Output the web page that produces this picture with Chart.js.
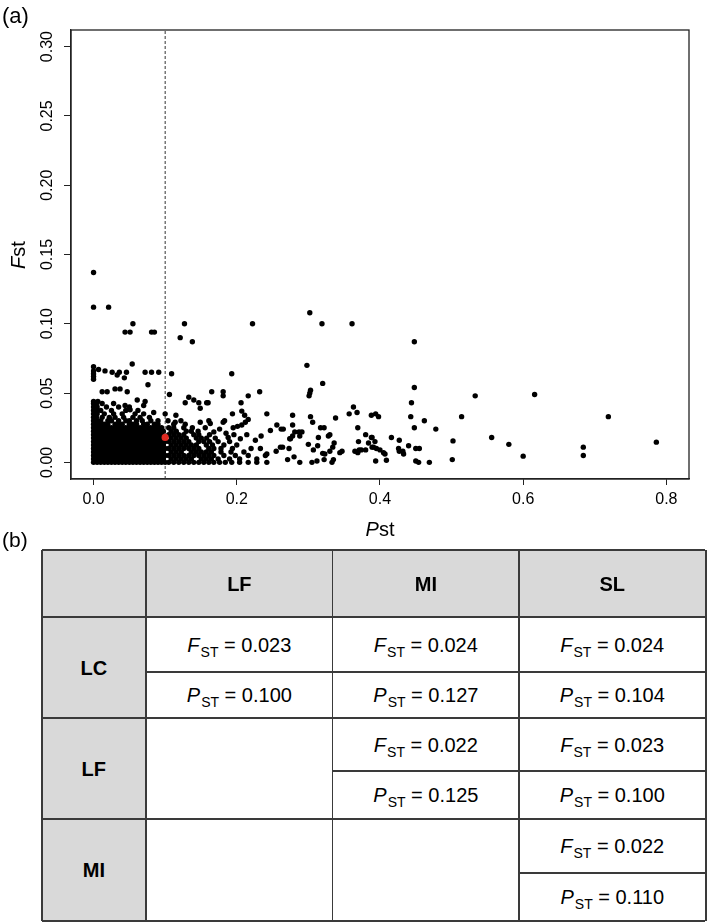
<!DOCTYPE html>
<html>
<head>
<meta charset="utf-8">
<script src="https://cdn.jsdelivr.net/npm/chart.js@4.4.1/dist/chart.umd.min.js"></script>
<style>
  html,body{margin:0;padding:0;background:#fff;}
  body{width:709px;height:922px;position:relative;overflow:hidden;font-family:"Liberation Sans",Arial,sans-serif;color:#000;}
  .lbl{position:absolute;line-height:1;white-space:nowrap;}
  .sub{font-size:14px;position:relative;top:5px;margin-left:1px;}
  #wrap{position:absolute;left:0;top:0;width:709px;height:545px;}
</style>
</head>
<body>
<div id="wrap"><canvas id="c" width="709" height="545"></canvas></div>
<div class="lbl" style="left:2px;top:5px;font-size:22px;">(a)</div>
<div class="lbl" style="left:2px;top:529px;font-size:21px;">(b)</div>
<div class="lbl" style="left:-2px;top:245px;width:40px;text-align:center;font-size:20px;transform:rotate(-90deg);"><i>F</i>st</div>
<div class="lbl" style="left:71px;width:618px;top:519px;text-align:center;font-size:20px;"><i>P</i>st</div>
<script>
// ---------------- DATA ----------------
const xTickValues = [0, 0.2, 0.4, 0.6, 0.8];
const yTickValues = [0, 0.05, 0.10, 0.15, 0.20, 0.25, 0.30];
const pstThreshold = 0.1;
const meanPoint = [[0.100, 0.018]]; // red point [Pst, Fst]
// scattered loci [Pst, Fst]
const lociSparse = [
[0,0.137],[0,0.112],[0.021,0.112],
[0.055,0.100],[0.044,0.094],[0.051,0.094],[0.081,0.094],[0.085,0.094],
[0.127,0.100],[0.121,0.090],[0.138,0.087],[0.054,0.071],
[0,0.069],[0,0.066],[0,0.064],[0,0.062],[0,0.060],
[0.007,0.067],[0.016,0.066],[0.026,0.065],[0.036,0.065],[0.046,0.065],[0.033,0.063],[0.043,0.061],
[0.072,0.065],[0.081,0.065],[0.091,0.065],[0.109,0.064],[0.076,0.056],
[0.012,0.051],[0.019,0.051],[0.030,0.053],[0.037,0.053],[0.047,0.051],
[0.061,0.045],[0.072,0.044],[0.070,0.041],[0.051,0.038],[0.044,0.041],
[0.106,0.049],[0.128,0.043],[0.133,0.047],[0.140,0.045],[0.147,0.043],[0.158,0.043],
[0.100,0.035],[0.115,0.034],[0.114,0.029],[0.084,0.036],
[0.222,0.100],[0.302,0.108],[0.319,0.100],[0.361,0.100],[0.298,0.070],[0.193,0.064],[0.320,0.057],
[0.303,0.052],[0.302,0.050],[0.301,0.048],[0.165,0.051],[0.181,0.051],[0.181,0.048],[0.232,0.051],[0.216,0.048],
[0.149,0.039],[0.160,0.043],[0.206,0.043],[0.194,0.035],[0.207,0.037],[0.211,0.034],[0.216,0.031],
[0.242,0.035],[0.278,0.034],[0.303,0.033],[0.338,0.032],[0.357,0.035],[0.363,0.040],[0.368,0.036],
[0.388,0.034],[0.394,0.035],[0.398,0.033],
[0.149,0.029],[0.161,0.030],[0.163,0.028],[0.183,0.030],[0.181,0.029],
[0.195,0.025],[0.201,0.026],[0.207,0.027],[0.212,0.029],
[0.247,0.023],[0.256,0.027],[0.262,0.024],[0.265,0.024],[0.278,0.027],
[0.281,0.022],[0.287,0.022],[0.291,0.022],[0.288,0.019],
[0.306,0.029],[0.317,0.025],[0.322,0.025],[0.328,0.019],[0.330,0.020],
[0.369,0.025],[0.380,0.020],[0.389,0.018],[0.274,0.017],[0.278,0.019],
[0.300,0.013],[0.314,0.018],[0.313,0.012],[0.336,0.014],[0.334,0.011],[0.307,0.009],
[0.320,0.0065],[0.323,0.006],[0.344,0.007],[0.347,0.008],
[0.370,0.015],[0.371,0.009],[0.369,0.007],[0.380,0.009],[0.395,0.010],[0.384,0.014],[0.389,0.011],
[0.394,0.001],[0.271,0.002],[0.280,0.004],[0.288,0.000],
[0.305,0.000],[0.312,0.001],[0.322,0.002],[0.333,0.000],[0.335,0.002],
[0.255,0.008],[0.261,0.011],[0.264,0.011],[0.273,0.010],[0.275,0.017],
[0.242,0.006],[0.242,0.000],[0.233,0.010],
[0.448,0.087],[0.448,0.054],[0.444,0.043],[0.533,0.048],[0.616,0.049],
[0.443,0.033],[0.462,0.030],[0.448,0.025],[0.478,0.024],[0.514,0.033],
[0.388,0.018],[0.393,0.015],[0.391,0.011],[0.416,0.018],[0.427,0.016],[0.440,0.012],
[0.400,0.009],[0.405,0.007],[0.407,0.006],[0.426,0.010],[0.427,0.008],[0.432,0.008],[0.433,0.006],
[0.450,0.010],[0.455,0.010],[0.409,0.0015],[0.450,0.001],[0.454,0.000],[0.469,0.000],
[0.502,0.0155],[0.501,0.002],[0.556,0.018],[0.580,0.013],[0.600,0.0045],
[0.719,0.033],[0.684,0.011],[0.684,0.005],[0.786,0.0146],
[0.365,0.008],[0.374,0.009],[0.330,0.008],
[0.168,0.022],[0.176,0.024],[0.185,0.021],[0.188,0.018],[0.196,0.020],[0.205,0.017],[0.214,0.020],[0.226,0.016],[0.234,0.019]
];
// dense cloud of loci near the origin [Pst, Fst]
const lociCloud = [
[0,0],[0.005,0],[0.01,0],[0.015,0],[0.02,0],[0.025,0],[0.03,0],[0.035,0],[0.04,0],[0.045,0],[0.05,0],[0.055,0],[0.06,0],[0.065,0],[0.07,0],[0.075,0],[0.08,0],[0.085,0],[0.09,0],[0.095,0],[0.1,0],
[0.105,0],[0.112,0],[0.119,0],[0.126,0],[0.133,0],[0.14,0],[0.147,0],[0.154,0],[0.161,0],[0.168,0],[0.176,0],[0.184,0],[0.193,0],[0.204,0],[0.216,0],[0.228,0],
[0,0.0025],[0.0025,0.0025],[0.0075,0.0025],[0.0125,0.0025],[0.0175,0.0025],[0.0225,0.0025],[0.0275,0.0025],[0.0325,0.0025],[0.0375,0.0025],[0.0425,0.0025],[0.0475,0.0025],[0.0525,0.0025],[0.0575,0.0025],[0.0625,0.0025],[0.0675,0.0025],[0.0725,0.0025],[0.0775,0.0025],[0.0825,0.0025],[0.0875,0.0025],[0.0925,0.0025],[0.0975,0.0025],
[0.1085,0.0025],[0.1155,0.0025],[0.1225,0.0025],[0.1295,0.0025],[0.1365,0.0025],[0.1505,0.0025],[0.1575,0.0025],[0.1645,0.0025],[0.174,0.0025],[0.19,0.0025],[0.204,0.0025],[0.228,0.0025],
[0,0.005],[0.005,0.005],[0.01,0.005],[0.015,0.005],[0.02,0.005],[0.025,0.005],[0.03,0.005],[0.035,0.005],[0.04,0.005],[0.045,0.005],[0.05,0.005],[0.055,0.005],[0.06,0.005],[0.065,0.005],[0.07,0.005],[0.075,0.005],[0.08,0.005],[0.085,0.005],[0.09,0.005],[0.095,0.005],[0.1,0.005],
[0.105,0.005],[0.112,0.005],[0.119,0.005],[0.126,0.005],[0.133,0.005],[0.14,0.005],[0.147,0.005],[0.154,0.005],[0.161,0.005],[0.168,0.005],[0.182,0.005],[0.198,0.005],[0.216,0.005],[0.24,0.005],
[0,0.0075],[0.0025,0.0075],[0.0075,0.0075],[0.0125,0.0075],[0.0175,0.0075],[0.0225,0.0075],[0.0275,0.0075],[0.0325,0.0075],[0.0375,0.0075],[0.0425,0.0075],[0.0475,0.0075],[0.0525,0.0075],[0.0575,0.0075],[0.0625,0.0075],[0.0675,0.0075],[0.0725,0.0075],[0.0775,0.0075],[0.0825,0.0075],[0.0875,0.0075],[0.0925,0.0075],[0.0975,0.0075],
[0.1085,0.0075],[0.1155,0.0075],[0.1225,0.0075],[0.1365,0.0075],[0.1435,0.0075],[0.1505,0.0075],[0.1575,0.0075],[0.1645,0.0075],[0.178,0.0075],[0.192,0.0075],[0.21,0.0075],
[0,0.01],[0.005,0.01],[0.01,0.01],[0.015,0.01],[0.02,0.01],[0.025,0.01],[0.03,0.01],[0.035,0.01],[0.04,0.01],[0.045,0.01],[0.05,0.01],[0.055,0.01],[0.06,0.01],[0.065,0.01],[0.07,0.01],[0.075,0.01],[0.08,0.01],[0.085,0.01],[0.09,0.01],[0.095,0.01],[0.1,0.01],
[0.105,0.01],[0.112,0.01],[0.119,0.01],[0.126,0.01],[0.133,0.01],[0.14,0.01],[0.147,0.01],[0.161,0.01],[0.168,0.01],[0.178,0.01],[0.194,0.01],[0.22,0.01],
[0,0.0125],[0.0025,0.0125],[0.0075,0.0125],[0.0125,0.0125],[0.0175,0.0125],[0.0225,0.0125],[0.0275,0.0125],[0.0325,0.0125],[0.0375,0.0125],[0.0425,0.0125],[0.0475,0.0125],[0.0525,0.0125],[0.0575,0.0125],[0.0625,0.0125],[0.0675,0.0125],[0.0725,0.0125],[0.0775,0.0125],[0.0825,0.0125],[0.0875,0.0125],[0.0925,0.0125],[0.0975,0.0125],
[0.1085,0.0125],[0.1155,0.0125],[0.1225,0.0125],[0.1295,0.0125],[0.1365,0.0125],[0.1435,0.0125],[0.1575,0.0125],[0.166,0.0125],[0.182,0.0125],[0.2,0.0125],
[0,0.015],[0.005,0.015],[0.01,0.015],[0.015,0.015],[0.02,0.015],[0.025,0.015],[0.03,0.015],[0.035,0.015],[0.04,0.015],[0.045,0.015],[0.05,0.015],[0.055,0.015],[0.06,0.015],[0.065,0.015],[0.07,0.015],[0.075,0.015],[0.08,0.015],[0.085,0.015],[0.09,0.015],[0.095,0.015],[0.1,0.015],
[0.105,0.015],[0.112,0.015],[0.119,0.015],[0.126,0.015],[0.133,0.015],[0.147,0.015],[0.154,0.015],[0.162,0.015],[0.174,0.015],[0.19,0.015],
[0,0.0175],[0.0025,0.0175],[0.0075,0.0175],[0.0125,0.0175],[0.0175,0.0175],[0.0225,0.0175],[0.0275,0.0175],[0.0325,0.0175],[0.0375,0.0175],[0.0425,0.0175],[0.0475,0.0175],[0.0525,0.0175],[0.0575,0.0175],[0.0625,0.0175],[0.0675,0.0175],[0.0725,0.0175],[0.0775,0.0175],[0.0825,0.0175],[0.0875,0.0175],[0.0925,0.0175],
[0.1085,0.0175],[0.1155,0.0175],[0.1225,0.0175],[0.1295,0.0175],[0.1435,0.0175],[0.1505,0.0175],[0.158,0.0175],[0.17,0.0175],
[0,0.02],[0.005,0.02],[0.01,0.02],[0.015,0.02],[0.02,0.02],[0.025,0.02],[0.03,0.02],[0.035,0.02],[0.04,0.02],[0.045,0.02],[0.05,0.02],[0.055,0.02],[0.06,0.02],[0.065,0.02],[0.07,0.02],[0.075,0.02],[0.08,0.02],[0.085,0.02],[0.09,0.02],[0.095,0.02],
[0.105,0.02],[0.112,0.02],[0.119,0.02],[0.126,0.02],[0.14,0.02],[0.147,0.02],[0.162,0.02],
[0,0.0225],[0.0025,0.0225],[0.0075,0.0225],[0.0125,0.0225],[0.0175,0.0225],[0.0225,0.0225],[0.0275,0.0225],[0.0325,0.0225],[0.0375,0.0225],[0.0425,0.0225],[0.0475,0.0225],[0.0525,0.0225],[0.0575,0.0225],[0.0625,0.0225],[0.0675,0.0225],[0.0725,0.0225],[0.0775,0.0225],[0.0825,0.0225],[0.0875,0.0225],[0.0925,0.0225],[0.0975,0.0225],
[0.1085,0.0225],[0.1155,0.0225],[0.1295,0.0225],[0.1365,0.0225],[0.146,0.0225],
[0,0.025],[0.005,0.025],[0.01,0.025],[0.015,0.025],[0.02,0.025],[0.025,0.025],[0.03,0.025],[0.035,0.025],[0.04,0.025],[0.045,0.025],[0.05,0.025],[0.055,0.025],[0.06,0.025],[0.065,0.025],[0.07,0.025],[0.075,0.025],[0.08,0.025],[0.085,0.025],[0.09,0.025],[0.095,0.025],
[0.105,0.025],[0.112,0.025],[0.126,0.025],[0.138,0.025],[0.156,0.025],
[0,0.0275],[0.005,0.0275],[0.01,0.0275],[0.015,0.0275],[0.02,0.0275],[0.03,0.0275],[0.035,0.0275],[0.04,0.0275],[0.05,0.0275],[0.055,0.0275],[0.06,0.0275],[0.07,0.0275],[0.075,0.0275],[0.085,0.0275],[0.09,0.0275],
[0.112,0.0275],[0.128,0.0275],
[0,0.03],[0.005,0.03],[0.01,0.03],[0.02,0.03],[0.025,0.03],[0.035,0.03],[0.045,0.03],[0.05,0.03],[0.06,0.03],[0.068,0.03],[0.08,0.03],[0.09,0.03],[0.104,0.03],[0.122,0.03],
[0,0.0325],[0.004,0.0325],[0.012,0.0325],[0.022,0.0325],[0.03,0.0325],[0.042,0.0325],[0.055,0.0325],[0.065,0.0325],[0.078,0.0325],
[0,0.035],[0.005,0.035],[0.015,0.035],[0.028,0.035],[0.04,0.035],[0.058,0.035],[0.07,0.035],
[0,0.0375],[0.004,0.0375],[0.01,0.0375],[0.025,0.0375],[0.045,0.0375],[0.062,0.0375],
[0,0.04],[0.005,0.04],[0.018,0.04],[0.035,0.04],[0.05,0.04],
[0,0.0425],[0.004,0.0425],[0.012,0.0425],[0.028,0.0425],
[0,0.044],[0.006,0.044]
];
// table (b)
const colHeads = ['LF', 'MI', 'SL'];
const rowHeads = ['LC', 'LF', 'MI'];
const fstTable = [[0.023, 0.024, 0.024], [null, 0.022, 0.023], [null, null, 0.022]];
const pstTable = [[0.100, 0.127, 0.104], [null, 0.125, 0.100], [null, null, 0.110]];

// ---------------- CHART ----------------
const FONT = '"Liberation Sans", Arial, Helvetica, sans-serif';
Chart.defaults.font.family = FONT;
Chart.defaults.color = '#000';

const frame = {
  id: 'frame',
  afterDatasetsDraw(chart) {
    const a = chart.chartArea, c = chart.ctx;
    c.save();
    c.strokeStyle = '#222';
    c.lineWidth = 1.3;
    c.strokeRect(a.left, a.top, a.right - a.left, a.bottom - a.top);
    c.restore();
  }
};
const toXY = p => ({x: p[0], y: p[1]});

new Chart(document.getElementById('c'), {
  type: 'scatter',
  data: {
    datasets: [
      { label: 'mean', data: meanPoint.map(toXY), backgroundColor: '#e02a22', borderWidth: 0, pointRadius: 3.6, order: 0 },
      { label: 'loci', data: lociCloud.concat(lociSparse).map(toXY), backgroundColor: '#000', borderWidth: 0, pointRadius: 2.7, order: 1 },
      { label: 'threshold', type: 'line', data: [{x: pstThreshold, y: -0.012}, {x: pstThreshold, y: 0.312}], borderColor: '#333', borderWidth: 1, borderDash: [3, 2], pointRadius: 0, showLine: true, order: 2 }
    ]
  },
  options: {
    responsive: false,
    devicePixelRatio: 1,
    animation: false,
    events: [],
    layout: { padding: { left: 0, right: 20, top: 30, bottom: 0 } },
    plugins: { legend: { display: false }, tooltip: { enabled: false } },
    scales: {
      x: {
        type: 'linear', min: -0.0315, max: 0.8316,
        afterBuildTicks: s => { s.ticks = xTickValues.map(v => ({value: v})); },
        afterFit: s => { s.height = 66; },
        ticks: { callback: v => Number(v).toFixed(1), font: { size: 16 }, color: '#000', padding: 5, autoSkip: false, maxRotation: 0 },
        grid: { drawOnChartArea: false, drawTicks: true, tickLength: 6, color: '#222', lineWidth: 1 },
        border: { display: true, color: '#222', width: 1.3 }
      },
      y: {
        type: 'linear', min: -0.012, max: 0.312,
        afterBuildTicks: s => { s.ticks = yTickValues.map(v => ({value: v})); },
        afterFit: s => { s.width = 71; },
        ticks: { callback: v => Number(v).toFixed(2), font: { size: 16 }, color: '#000', padding: 1, minRotation: 90, maxRotation: 90, crossAlign: 'center', autoSkip: false },
        grid: { drawOnChartArea: false, drawTicks: true, tickLength: 7, color: '#222', lineWidth: 1 },
        border: { display: true, color: '#222', width: 1.3 }
      }
    }
  },
  plugins: [frame]
});

// ---------------- TABLE ----------------
const colX = [41.7, 146, 332.7, 519, 705.5];
const rowY = [550, 617, 718, 819, 920.5];
const splitY = [672, 771, 873];
function box(l, t, w, h, css) {
  const d = document.createElement('div');
  d.style.cssText = `position:absolute;left:${l}px;top:${t}px;width:${w}px;height:${h}px;` + css;
  document.body.appendChild(d);
  return d;
}
function cellText(l, t, w, h, html, css) {
  const d = box(l, t, w, h, 'display:flex;align-items:center;justify-content:center;white-space:nowrap;line-height:1;font-family:' + FONT + ';' + css);
  d.innerHTML = '<span>' + html + '</span>';
}
const GRAY = '#d9d9d9';
box(colX[0], rowY[0], colX[4] - colX[0], rowY[1] - rowY[0], 'background:' + GRAY);
box(colX[0], rowY[1], colX[1] - colX[0], rowY[4] - rowY[1], 'background:' + GRAY);
colHeads.forEach((c, j) => cellText(colX[j + 1], rowY[0], colX[j + 2] - colX[j + 1], rowY[1] - rowY[0], c, 'font-weight:bold;font-size:20px'));
rowHeads.forEach((r, i) => cellText(colX[0], rowY[i + 1], colX[1] - colX[0], rowY[i + 2] - rowY[i + 1], r, 'font-weight:bold;font-size:20px'));
for (let i = 0; i < 3; i++) {
  for (let j = 0; j < 3; j++) {
    if (fstTable[i][j] === null) continue;
    const l = colX[j + 1], w = colX[j + 2] - colX[j + 1];
    cellText(l, rowY[i + 1], w, splitY[i] - rowY[i + 1], `<i>F</i><span class="sub">ST</span> = ${fstTable[i][j].toFixed(3)}`, 'font-size:20px');
    cellText(l, splitY[i], w, rowY[i + 2] - splitY[i], `<i>P</i><span class="sub">ST</span> = ${pstTable[i][j].toFixed(3)}`, 'font-size:20px');
  }
}
const LINE = '#3a3a3a';
colX.forEach((x, k) => { const t = (k === 0 || k === 4) ? 2 : 1.5; box(x - t / 2, rowY[0], t, rowY[4] - rowY[0], 'background:' + LINE); });
rowY.forEach((y, k) => { const t = (k === 0 || k === 4) ? 2 : 1.5; box(colX[0], y - t / 2, colX[4] - colX[0], t, 'background:' + LINE); });
splitY.forEach((y, i) => box(colX[i + 1], y - 1, colX[4] - colX[i + 1], 2, 'background:' + LINE));
</script>
</body>
</html>
